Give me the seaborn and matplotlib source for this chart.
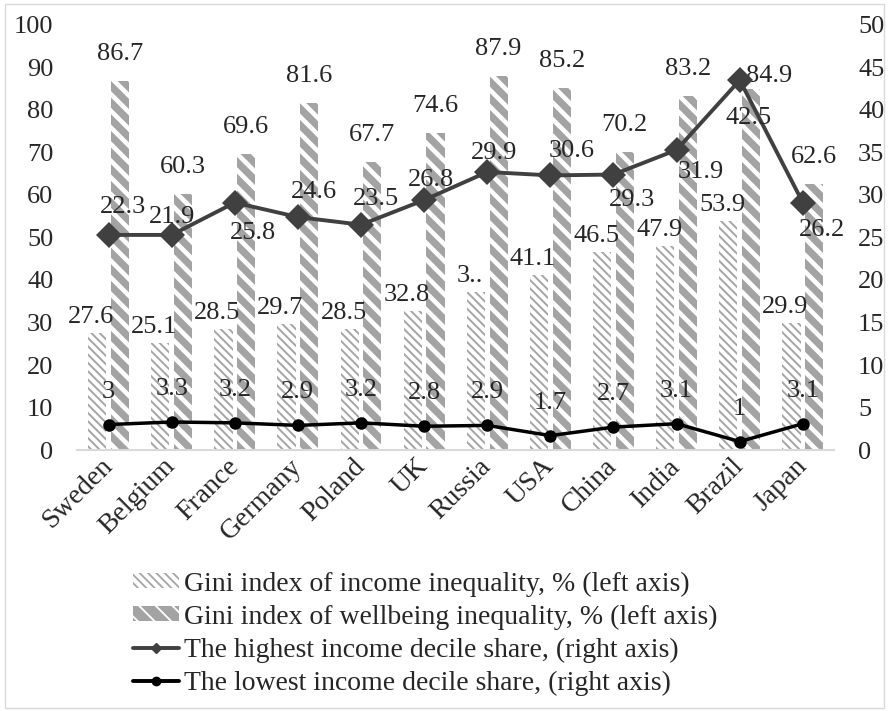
import numpy as np
import pandas as pd
import matplotlib
matplotlib.use("Agg")
import matplotlib.pyplot as plt
import seaborn as sns
from matplotlib.patches import Patch, Rectangle
from matplotlib.lines import Line2D

# ---------------- data ----------------
countries = ["Sweden", "Belgium", "France", "Germany", "Poland", "UK",
             "Russia", "USA", "China", "India", "Brazil", "Japan"]
gini_income = [27.6, 25.1, 28.5, 29.7, 28.5, 32.8, 37.2, 41.1, 46.5, 47.9, 53.9, 29.9]
gini_wellbeing = [86.7, 60.3, 69.6, 81.6, 67.7, 74.6, 87.9, 85.2, 70.2, 83.2, 84.9, 62.6]
# plotted positions of the highest decile markers (right axis)
high_decile = [25.3, 25.3, 29.1, 27.4, 26.5, 29.4, 32.7, 32.3, 32.4, 35.3, 43.5, 29.1]
# data labels as printed in the chart
high_decile_labels = ["22.3", "21.9", "25.8", "24.6", "23.5", "26.8",
                      "29.9", "30.6", "29.3", "31.9", "42.5", "26.2"]
low_decile = [3, 3.3, 3.2, 2.9, 3.2, 2.8, 2.9, 1.7, 2.7, 3.1, 1, 3.1]
low_decile_labels = ["3", "3.3", "3.2", "2.9", "3.2", "2.8",
                     "2.9", "1.7", "2.7", "3.1", "1", "3.1"]
income_labels = ["27.6", "25.1", "28.5", "29.7", "28.5", "32.8",
                 "3..", "41.1", "46.5", "47.9", "53.9", "29.9"]
wellbeing_labels = ["86.7", "60.3", "69.6", "81.6", "67.7", "74.6",
                    "87.9", "85.2", "70.2", "83.2", "84.9", "62.6"]

series_names = ["Gini index of income inequality, % (left axis)",
                "Gini index of wellbeing inequality, % (left axis)",
                "The highest income decile share, (right axis)",
                "The lowest income decile share, (right axis)"]

# ---------------- style ----------------
FS = 19
sns.set_theme(style="white")
plt.rcParams["font.family"] = ["Liberation Serif", "DejaVu Serif"]
plt.rcParams["font.size"] = FS

fig = plt.figure(figsize=(8.89, 7.11), dpi=100)
ax = fig.add_axes([0.0866, 0.367, 0.852, 0.598])

df = pd.DataFrame({
    "country": countries * 2,
    "value": gini_income + gini_wellbeing,
    "series": [series_names[0]] * len(countries) + [series_names[1]] * len(countries),
})

plt.rcParams["hatch.linewidth"] = 1.3
sns.barplot(data=df, x="country", y="value", hue="series", order=countries,
            hue_order=series_names[:2], width=0.72, gap=0.2, ax=ax,
            legend=False, saturation=1)

n = len(countries)
inc_bars = ax.containers[0]
wb_bars = ax.containers[1]
for p in inc_bars:
    p.set_facecolor("white")
    p.set_edgecolor("#a5a5a5")
    p.set_hatch("\\\\\\\\")
    p.set_linewidth(0)
    try:
        p.set_hatch_linewidth(1.4)
    except Exception:
        pass
for p in wb_bars:
    p.set_facecolor("#a3a3a3")
    p.set_edgecolor("white")
    p.set_hatch("\\\\")
    p.set_linewidth(0)
    try:
        p.set_hatch_linewidth(3.3)
    except Exception:
        pass

ax.set_ylim(0, 100)
ax.set_yticks(np.arange(0, 101, 10))
ax.set_xlim(-0.5, n - 0.5)
ax.set_xlabel("")
ax.set_ylabel("")
for s in ["top", "left", "right"]:
    ax.spines[s].set_visible(False)
ax.spines["bottom"].set_color("#d9d9d9")
ax.spines["bottom"].set_linewidth(1.5)
ax.tick_params(axis="y", length=0, pad=17, labelsize=FS)
ax.tick_params(axis="x", length=0, pad=9, labelsize=20)
ax.set_xticks(range(n))
ax.set_xticklabels(countries, rotation=45, ha="right", va="center",
                   rotation_mode="anchor")

# bar labels
for i, p in enumerate(inc_bars):
    xc = p.get_x() + p.get_width() / 2
    ax.annotate(income_labels[i], (xc, gini_income[i]), xytext=(-6, 16),
                textcoords="offset pixels", ha="center", va="center", fontsize=FS)
wb_offsets = [(0, 27)] * n
wb_offsets[10] = (18, 13)
for i, p in enumerate(wb_bars):
    xc = p.get_x() + p.get_width() / 2
    ax.annotate(wellbeing_labels[i], (xc, gini_wellbeing[i]), xytext=wb_offsets[i],
                textcoords="offset pixels", ha="center", va="center", fontsize=FS)

# ---------------- right axis lines ----------------
ax2 = ax.twinx()
xpos = np.arange(n)
sns.lineplot(x=xpos, y=high_decile, ax=ax2, color="#404040", linewidth=2.8,
             marker="D", markersize=13, markeredgewidth=0, sort=False)
sns.lineplot(x=xpos, y=low_decile, ax=ax2, color="black", linewidth=2.5,
             marker="o", markersize=9, markeredgewidth=0, sort=False)
ax2.set_ylim(0, 50)
ax2.set_yticks(np.arange(0, 51, 5))
ax2.set_xlim(-0.5, n - 0.5)
for s in ["top", "left", "right", "bottom"]:
    ax2.spines[s].set_visible(False)
ax2.tick_params(axis="y", length=0, pad=17, labelsize=FS)
ax2.set_ylabel("")

high_offsets = [(14, 28), (0, 18), (18, -30), (16, 25), (15, 26), (7, 20),
                (7, 19), (21, 24), (19, -25), (24, -22), (9, -38), (19, -27)]
for i in range(n):
    ax2.annotate(high_decile_labels[i], (xpos[i], high_decile[i]), xytext=high_offsets[i],
                 textcoords="offset pixels", ha="center", va="center", fontsize=FS)
for i in range(n):
    ax2.annotate(low_decile_labels[i], (xpos[i], low_decile[i]), xytext=(0, 33),
                 textcoords="offset pixels", ha="center", va="center", fontsize=FS)

# ---------------- legend ----------------
h_inc = Patch(facecolor="white", edgecolor="#a5a5a5", hatch="\\\\\\\\", linewidth=0)
h_wb = Patch(facecolor="#a3a3a3", edgecolor="white", hatch="\\\\", linewidth=0)
h_high = Line2D([], [], color="#404040", linewidth=2.8, marker="D", markersize=5)
h_low = Line2D([], [], color="black", linewidth=2.8, marker="o", markersize=6)
leg = fig.legend([h_inc, h_wb, h_high, h_low], series_names,
                 loc="upper left", bbox_to_anchor=(0.137, 0.212),
                 frameon=False, fontsize=20, handlelength=1.65, handleheight=0.45,
                 handletextpad=0.2, labelspacing=0.29, borderaxespad=0)

# figure border
fig.patches.append(Rectangle((0.006, 0.004), 0.988, 0.99, transform=fig.transFigure,
                             fill=False, edgecolor="#d9d9d9", linewidth=1))

fig.savefig("out.png", dpi=100)
